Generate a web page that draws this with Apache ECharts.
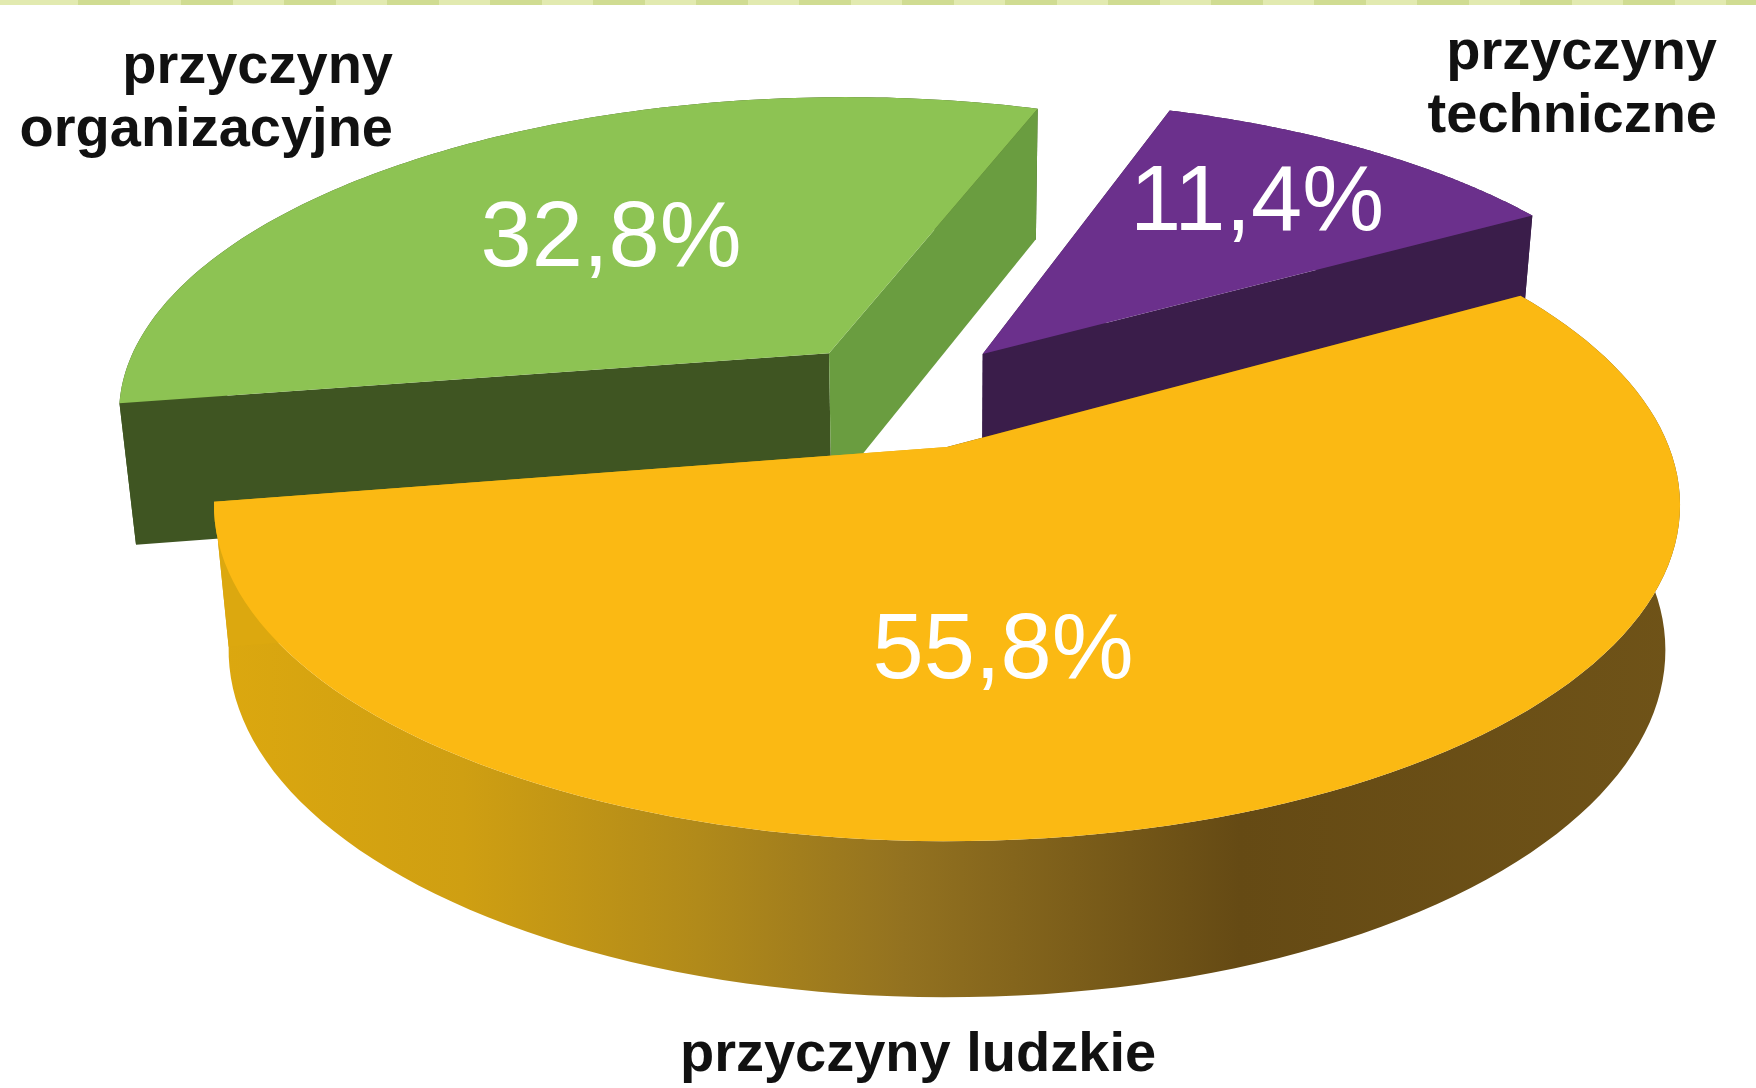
<!DOCTYPE html>
<html lang="pl">
<head>
    <meta charset="UTF-8">
    <title>Przyczyny</title>
    <script src="https://cdn.jsdelivr.net/npm/echarts@6/dist/echarts.min.js"></script>
    <style>
        html, body { margin: 0; padding: 0; background: #fff; }
        #chart { width: 1756px; height: 1088px; }
    </style>
</head>
<body>
    <div id="chart"></div>
    <script>
        // slices in drawing order (back to front), clockwise on screen
        var categories = ['przyczyny\norganizacyjne', 'przyczyny\ntechniczne', 'przyczyny ludzkie'];
        var values = [32.8, 11.4, 55.8];

        // styles per slice
        var topColors = ['#8dc353', '#6b308c', '#fbb913'];
        var sideColors = ['#3f5522', '#3a1d4a', '#64480f'];
        var startFaceColors = ['#3f5522', '#3a1d4a', '#64480f'];
        var endFaceColors = ['#6a9d40', '#3a1d4a', '#dca80f'];
        var explode = [[-0.172, -0.303], [0.052, -0.3], [0, 0]];
        var reach = [1.015, 1.01, 1];
        var valuePos = [[611, 195], [1257, 159], [1003, 607]];
        var namePos = [[393, 40], [1717, 26], [918, 1028]];
        var nameAlign = ['right', 'right', 'center'];

        // projection of the pie plane
        var cx = 947, cy = 447, radiusX = 722, radiusY = 326, persp = 0.173, depth = 143;
        var startAngle = 170.6;

        function project(off, r, deg) {
            var a = deg * Math.PI / 180;
            var px = off[0] + r * Math.cos(a);
            var py = off[1] + r * Math.sin(a);
            var w = 1 - persp * py;
            return { x: cx + radiusX * px / w, y: cy + radiusY * py / w, w: w };
        }
        function topPoint(off, r, deg) {
            var p = project(off, r, deg);
            return [p.x, p.y];
        }
        function bottomPoint(off, r, deg) {
            var p = project(off, r, deg);
            return [cx + (p.x - cx) * 0.98, p.y + depth * Math.pow(p.w, -0.46)];
        }
        function poly(points, fill) {
            return { type: 'polygon', shape: { points: points }, style: { fill: fill } };
        }

        var sideGradient = new echarts.graphic.LinearGradient(0, 0, 1, 0, [
            { offset: 0, color: '#dca80f' },
            { offset: 0.17, color: '#cf9f12' },
            { offset: 0.33, color: '#b18a1a' },
            { offset: 0.47, color: '#937220' },
            { offset: 0.7, color: '#654a14' },
            { offset: 1, color: '#6f5318' }
        ]);

        function renderSlice(params, api) {
            var i = params.dataIndex;
            var from = startAngle;
            for (var k = 0; k < i; k++) from += values[k] * 3.6;
            var to = from + api.value(0) * 3.6;
            var off = explode[i], r = reach[i];

            var arcTop = [], arcBottom = [];
            for (var d = 0; d <= 120; d++) {
                var deg = from + (to - from) * d / 120;
                arcTop.push(topPoint(off, r, deg));
                arcBottom.push(bottomPoint(off, r, deg));
            }

            var children = [];
            children.push(poly(arcTop.concat(arcBottom.slice().reverse()), i === 2 ? sideGradient : sideColors[i]));
            children.push(poly([topPoint(off, 0, 0), topPoint(off, r, from), bottomPoint(off, r, from), bottomPoint(off, 0, 0)], startFaceColors[i]));
            children.push(poly([topPoint(off, 0, 0), topPoint(off, r, to), bottomPoint(off, r, to), bottomPoint(off, 0, 0)], endFaceColors[i]));
            children.push(poly([topPoint(off, 0, 0)].concat(arcTop), topColors[i]));

            children.push({
                type: 'text', z2: 10,
                style: {
                    x: valuePos[i][0], y: valuePos[i][1],
                    text: String(values[i]).replace('.', ',') + '%',
                    fill: '#fff', align: 'center', verticalAlign: 'top',
                    font: '92px "Liberation Sans", Arial, sans-serif'
                }
            });
            categories[i].split('\n').forEach(function(line, n) {
                children.push({
                    type: 'text', z2: 10,
                    style: {
                        x: namePos[i][0], y: namePos[i][1] + n * 63,
                        text: line, fill: '#111', align: nameAlign[i], verticalAlign: 'top',
                        font: 'bold 56px "Liberation Sans", Arial, sans-serif'
                    }
                });
            });
            return { type: 'group', children: children };
        }

        // striped band along the top edge
        var band = [{ type: 'rect', shape: { x: 0, y: 0, width: 1756, height: 5 }, style: { fill: '#e2eab0' } }];
        for (var sx = 78; sx < 1756; sx += 103) {
            band.push({ type: 'rect', shape: { x: sx, y: 0, width: 52, height: 5 }, style: { fill: '#d0dc92' } });
        }

        var myChart = echarts.init(document.getElementById('chart'), null, { renderer: 'canvas' });
        myChart.setOption({
            animation: false,
            backgroundColor: '#fff',
            graphic: band,
            series: [{
                type: 'custom',
                coordinateSystem: 'none',
                silent: true,
                renderItem: renderSlice,
                data: values.map(function(v) { return [v]; })
            }]
        });
    </script>
</body>
</html>
